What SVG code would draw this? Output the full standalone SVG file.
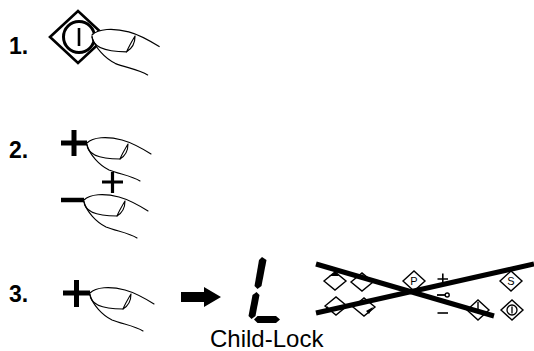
<svg xmlns="http://www.w3.org/2000/svg" width="534" height="351" viewBox="0 0 534 351">
  <style>
    .num { font-family: "Liberation Sans", Arial, sans-serif; font-weight: bold; font-size: 23px; fill: #000; }
    .cap { font-family: "Liberation Sans", Arial, sans-serif; font-size: 24px; fill: #000; }
    .lbl { font-family: "Liberation Sans", Arial, sans-serif; font-size: 11px; fill: #000; }
    .thin { fill: none; stroke: #000; stroke-width: 1.1; stroke-linecap: round; stroke-linejoin: round; }
    .key { fill: #fff; stroke: #000; stroke-width: 1.4; stroke-linejoin: miter; }
    .bar { stroke: #000; fill: none; }
    .cross { stroke: #000; stroke-width: 5; stroke-linecap: butt; }
  </style>
  <defs>
    <!-- fingertip pressing towards the left; origin is the tip -->
    <g id="finger">
      <path d="M0,0 C6,-6 20,-7 35,-3 C46,0 56,6 64,11 L53,38 C45,33 32,31 22,27 C12,22 3,12 0,2 Z" fill="#fff" stroke="none"/>
      <path class="thin" d="M0,0 C6,-6 20,-7 35,-3 C46,0 56,6 64,11"/>
      <path class="thin" d="M0,1 C0,10 10,16 33,16"/>
      <path class="thin" d="M33,16 C35,11 38,6 41,1 M33,16 C38,13 41,7 41,1"/>
      <path class="thin" d="M0,2 C3,12 12,22 22,27 C32,31 45,33 53,38"/>
    </g>
    <!-- small panel key outlines -->
    <path id="kd" d="M-11,0 L0,-9 L11,0 L0,9 Z"/>
    <path id="kdl" d="M-11,0 L0,-10 L11,0 L0,10 Z"/>
  </defs>

  <!-- step 1: press the on/off key -->
  <g id="step1">
    <text class="num" x="9" y="54">1.</text>
    <path d="M50,37 L78,11 L106,37 L78,63 Z" fill="#fff" stroke="#000" stroke-width="2.6"/>
    <circle cx="79" cy="37" r="15.5" fill="none" stroke="#000" stroke-width="3"/>
    <line x1="79" y1="28" x2="79" y2="46" stroke="#000" stroke-width="2.6"/>
    <use href="#finger" transform="translate(92,35) scale(1.05)"/>
  </g>

  <!-- step 2: hold plus, then minus -->
  <g id="step2">
    <text class="num" x="9" y="158">2.</text>
    <path class="bar" stroke-width="5" d="M61,143 H87 M74,130 V156"/>
    <use href="#finger" transform="translate(87,143)"/>
    <path class="bar" stroke-width="3.2" d="M102,182 H123 M112.5,172 V193"/>
    <path class="bar" stroke-width="4.5" d="M61,200 H84"/>
    <use href="#finger" transform="translate(84,200)"/>
  </g>

  <!-- step 3: plus again locks the controls -->
  <g id="step3">
    <text class="num" x="9" y="302">3.</text>
    <path class="bar" stroke-width="5" d="M63,293 H90 M76.5,280 V307"/>
    <use href="#finger" transform="translate(90,293)"/>
  </g>

  <g id="arrow">
    <path d="M181,292 H204 V287 L221,297 L204,307 V302 H181 Z" fill="#000"/>
  </g>

  <!-- seven-segment "L" readout -->
  <g id="display">
    <path d="M262,257 L266.5,260 L261.5,286 L257.5,289 L254.5,286 L259,260 Z" fill="#000"/>
    <path d="M256.5,292 L259.5,295 L255.5,316 L251.5,319 L248.5,316 L252.5,295 Z" fill="#000"/>
    <path d="M254,319.5 L257.5,316 L276,316 L280,319.5 L276,323 L257.5,323 Z" fill="#000"/>
    <text class="cap" x="210" y="347">Child-Lock</text>
  </g>

  <!-- control panel, crossed out -->
  <g id="panel">
    <use href="#kd" class="key" x="335" y="281"/>
    <use href="#kd" class="key" x="362" y="282"/>
    <use href="#kd" class="key" x="336" y="306"/>
    <use href="#kd" class="key" x="364" y="307"/>
    <path d="M329,276 L336,272 L339,276 Z" fill="#000"/>
    <path d="M358,276 L364,274 L362,278 Z" fill="#000"/>
    <path d="M327,306 L332,311 L325,311 Z" fill="#000"/>
    <path d="M373,307 L369,314 L366,311 Z" fill="#000"/>

    <g id="key-p">
      <use href="#kdl" class="key" x="414" y="281"/>
      <text class="lbl" x="414" y="285" text-anchor="middle">P</text>
    </g>
    <g id="key-plus">
      <path class="bar" stroke-width="1.6" d="M437.5,279 H448 M442.8,273.5 V284.5"/>
    </g>
    <g id="key-lock">
      <path class="bar" stroke-width="1.8" d="M437,295 H445"/>
      <circle cx="447.2" cy="295" r="2" fill="#fff" stroke="#000" stroke-width="1.4"/>
    </g>
    <g id="key-minus">
      <path class="bar" stroke-width="1.6" d="M437.5,313 H448"/>
    </g>
    <g id="key-l">
      <use href="#kdl" class="key" x="478" y="310"/>
      <line x1="478" y1="302" x2="478" y2="310" stroke="#000" stroke-width="1.4"/>
    </g>
    <g id="key-s">
      <use href="#kdl" class="key" x="511" y="281"/>
      <text class="lbl" x="511" y="285" text-anchor="middle">S</text>
    </g>
    <g id="key-power">
      <use href="#kdl" class="key" x="512" y="310"/>
      <circle cx="512" cy="310" r="5" fill="none" stroke="#000" stroke-width="1.3"/>
      <line x1="512" y1="306.5" x2="512" y2="313.5" stroke="#000" stroke-width="1.3"/>
    </g>
  </g>

  <g id="connectors">
    <line class="cross" x1="316" y1="264" x2="494" y2="316"/>
    <line class="cross" x1="316" y1="313" x2="534" y2="264"/>
  </g>
</svg>
